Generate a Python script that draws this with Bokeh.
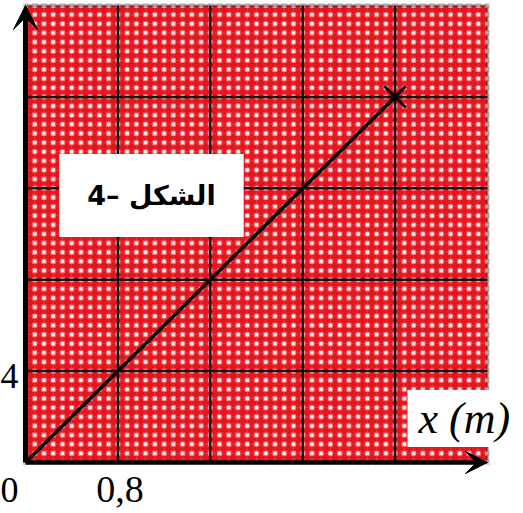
import numpy as np
from bokeh.plotting import figure
from bokeh.models import Range1d, Label, Arrow, VeeHead, BoxAnnotation
from bokeh.embed import file_html
from bokeh.resources import INLINE

# ---- data ----
x_max = 4.0
y_max = 20
x_major_step = 0.8
y_major_step = 4
minor_per_major = 10
line_x = [0, 3.2]
line_y = [0, 16]
x_tick_values = [0.8]
x_tick_labels = ["0,8"]
y_tick_values = [4]
y_tick_labels = ["4"]
origin_label = "0"
figure_label = "\u202a4– الشكل\u202c"
axis_label = "x (m)"

# ---- layout (pixels inside the canvas) ----
W, H = 523, 513
left_px, grid_w = 25, 462      # grid area horizontally
top_px, grid_h = 5, 457        # grid area vertically
ppx = grid_w / x_max
ppy = grid_h / y_max
x0 = -left_px / ppx
x1 = (W - left_px) / ppx
y1 = y_max + top_px / ppy
y0 = -(H - top_px - grid_h) / ppy

p = figure(width=W, height=H,
           x_range=Range1d(x0, x1), y_range=Range1d(y0, y1),
           output_backend="svg", toolbar_location=None,
           min_border=0, min_border_left=0, min_border_right=0,
           min_border_top=0, min_border_bottom=0,
           background_fill_color="white", border_fill_color="white")
p.axis.visible = False
p.grid.visible = False
p.outline_line_color = None

RED = "#e3161f"
p.add_layout(BoxAnnotation(left=0, right=x_max, bottom=0, top=y_max,
                           fill_color=RED, fill_alpha=1, line_color=None,
                           level="image"))

dx = x_major_step / minor_per_major
dy = y_major_step / minor_per_major
gx = np.arange(0, x_max + dx / 2, dx)
gy = np.arange(0, y_max + dy / 2, dy)

# minor grid lines (faint)
p.segment(x0=gx, y0=np.zeros_like(gx), x1=gx, y1=np.full_like(gx, y_max),
          line_color="#ff9d9d", line_alpha=0.25, line_width=1, level="underlay")
p.segment(x0=np.zeros_like(gy), y0=gy, x1=np.full_like(gy, x_max), y1=gy,
          line_color="#ff9d9d", line_alpha=0.25, line_width=1, level="underlay")

# dot pattern at minor intersections
mx, my = np.meshgrid(gx, gy)
p.scatter(mx.ravel(), my.ravel(), marker="square", size=5.2,
          fill_color="#ff9a9a", line_color=None, fill_alpha=0.6)
p.scatter(mx.ravel(), my.ravel(), marker="square", size=3.4,
          fill_color="#fff0f0", line_color=None, fill_alpha=0.95)

# major grid lines
mjx = np.arange(x_major_step, x_max - x_major_step / 2, x_major_step)
mjy = np.arange(y_major_step, y_max - y_major_step / 2, y_major_step)
p.segment(x0=mjx, y0=np.zeros_like(mjx), x1=mjx, y1=np.full_like(mjx, y_max),
          line_color="black", line_width=2.5, line_alpha=0.9)
p.segment(x0=np.zeros_like(mjy), y0=mjy, x1=np.full_like(mjy, x_max), y1=mjy,
          line_color="black", line_width=2.5, line_alpha=0.9)

# data line
p.line(line_x, line_y, line_color="black", line_width=3.5)
p.scatter(line_x[-1:], line_y[-1:], marker="x", size=30, line_color="black", line_width=3)

# border of the grid area
p.add_layout(BoxAnnotation(left=0, right=x_max, bottom=0, top=y_max,
                           fill_color=None, line_color="black", line_width=3,
                           level="guide"))

# axis arrows
p.add_layout(Arrow(end=VeeHead(size=24, fill_color="black", line_color="black"),
                   x_start=0, y_start=0, x_end=0, y_end=y_max,
                   line_color="black", line_width=5))
p.add_layout(Arrow(end=VeeHead(size=22, fill_color="black", line_color="black"),
                   x_start=0, y_start=0, x_end=x_max, y_end=0,
                   line_color="black", line_width=4.5))

serif = "Liberation Serif"
p.add_layout(Label(x=0, y=0, text=origin_label, x_offset=-7, y_offset=-27,
                   text_align="right", text_baseline="middle",
                   text_font=serif, text_font_size="36px", text_color="black"))
for xv, xt in zip(x_tick_values, x_tick_labels):
    p.add_layout(Label(x=xv, y=0, text=xt, x_offset=2, y_offset=-27,
                       text_align="center", text_baseline="middle",
                       text_font=serif, text_font_size="38px", text_color="black"))
for yv, yt in zip(y_tick_values, y_tick_labels):
    p.add_layout(Label(x=0, y=yv, text=yt, x_offset=-7, y_offset=-5,
                       text_align="right", text_baseline="middle",
                       text_font=serif, text_font_size="36px", text_color="black"))

p.add_layout(Label(x=x_max, y=0, text=axis_label, x_offset=-80, y_offset=44,
                   text_align="left", text_baseline="middle",
                   text_font=serif, text_font_style="italic", text_font_size="44px",
                   text_color="black", background_fill_color="white",
                   padding=(11, 4)))

p.add_layout(Label(x=(151 - left_px) / ppx, y=(462 - 195) / ppy, text=figure_label,
                   text_align="center", text_baseline="middle",
                   text_font="DejaVu Sans", text_font_style="bold", text_font_size="27px",
                   text_color="black", background_fill_color="white",
                   padding=(28, 26)))

open("out.html", "w").write(file_html(p, INLINE))
